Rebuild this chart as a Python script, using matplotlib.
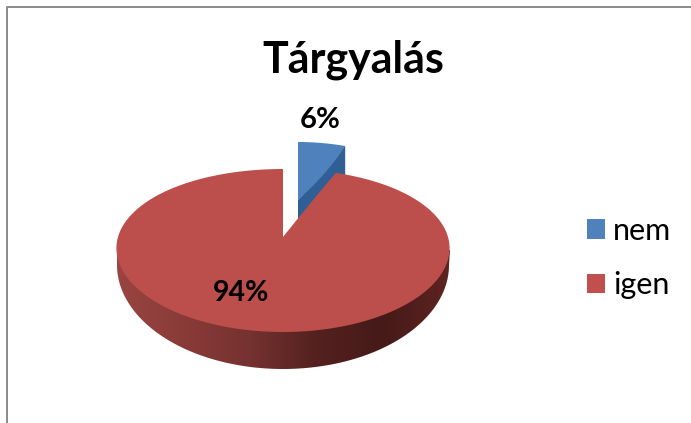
import numpy as np
import matplotlib
matplotlib.use("Agg")
import matplotlib.pyplot as plt
from matplotlib.colors import LinearSegmentedColormap
from matplotlib.patches import Patch, Polygon

# ── Data ────────────────────────────────────────────────────────────────
TITLE = "Tárgyalás"
CATEGORIES = ["nem", "igen"]
VALUES = [6, 94]
VALUE_LABELS = ["6%", "94%"]

# ── Colours ─────────────────────────────────────────────────────────────
C_BLUE = "#4f81bd"
C_BLUE_SIDE = "#2f5f94"
C_RED = "#bc4f4c"
C_FRAME = "#8a8a8a"
RIM = LinearSegmentedColormap.from_list(
    "rim", ["#9a4542", "#8a3b38", "#753230", "#54211f", "#451a18", "#5e2422"])

plt.rcParams["font.family"] = ["Lato", "DejaVu Sans"]

W, H = 691, 423


def project(wedge, x0, sx, k, y0, a, b):
    """Tilt a unit pie wedge into the perspective of the 3D disc."""
    pts = [curve(np.linspace(0, 1, 24)) for curve, _ in wedge.get_path().iter_bezier()]
    pts = np.vstack(pts)
    u, v = pts[:, 0], pts[:, 1]
    return np.column_stack([x0 + sx * u * (1 - k * v), y0 - a * v + b * v ** 2])


fig = plt.figure(figsize=(W / 100, H / 100), dpi=100)
ax = fig.add_axes([0, 0, 1, 1])

wedges, _ = ax.pie(VALUES, startangle=90, counterclock=False, frame=False)
blue_pts = project(wedges[0], 298, 165, 0.24, 200, 59, 1)
red_pts = project(wedges[1], 283, 165, 0.14, 237, 81.5, 13.5)
for w in wedges:
    w.remove()

ax.set_aspect("auto")

# rim of the big slice, shaded left to right
t = np.linspace(np.pi, 0, 120)
rim_x = np.r_[117, 283 + 166 * np.cos(t), 450]
rim_y = np.r_[250, 265 + 104 * np.sin(t), 250]
rim_patch = Polygon(np.column_stack([rim_x, rim_y]), closed=True,
                    facecolor="none", edgecolor="none")
ax.add_patch(rim_patch)
im = ax.imshow(np.linspace(0, 1, 256)[None, :], cmap=RIM, aspect="auto",
               extent=(115, 451, 370, 245), zorder=1)
im.set_clip_path(rim_patch)

# exploded slice: dark side first, then the top face
apex = blue_pts[np.argmax(blue_pts[:, 1])]
outer = blue_pts[np.argmax(blue_pts[:, 0])]
side = np.array([apex, outer, outer + [0, 30], apex + [0, 22]])
ax.add_patch(Polygon(side, closed=True, facecolor=C_BLUE_SIDE, edgecolor="none", zorder=2))
ax.add_patch(Polygon(blue_pts, closed=True, facecolor=C_BLUE, edgecolor="none", zorder=3))
ax.add_patch(Polygon(red_pts, closed=True, facecolor=C_RED, edgecolor="none", zorder=4))

# chart frame
ax.plot([7.5, 7.5, W], [H, 7.5, 7.5], color=C_FRAME, linewidth=1.4, zorder=5)

ax.text(353.5, 60, TITLE, fontsize=31, fontweight="bold", ha="center", va="center", zorder=6)
ax.text(320.5, 120.5, VALUE_LABELS[0], fontsize=21, fontweight="bold",
        ha="center", va="center", zorder=6)
ax.text(241, 293, VALUE_LABELS[1], fontsize=20.5, fontweight="bold",
        ha="center", va="center", zorder=6)

handles = [Patch(facecolor=C_BLUE, edgecolor="none"), Patch(facecolor="#c0504d", edgecolor="none")]
ax.legend(handles, CATEGORIES, loc="center left", bbox_to_anchor=(578 / W, 1 - 258 / H),
          frameon=False, fontsize=22, handlelength=0.59, handleheight=0.59,
          handletextpad=0.26, labelspacing=0.86, borderpad=0, borderaxespad=0.3)

ax.set_xlim(0, W)
ax.set_ylim(H, 0)
ax.axis("off")

fig.savefig("out.png", dpi=100)
